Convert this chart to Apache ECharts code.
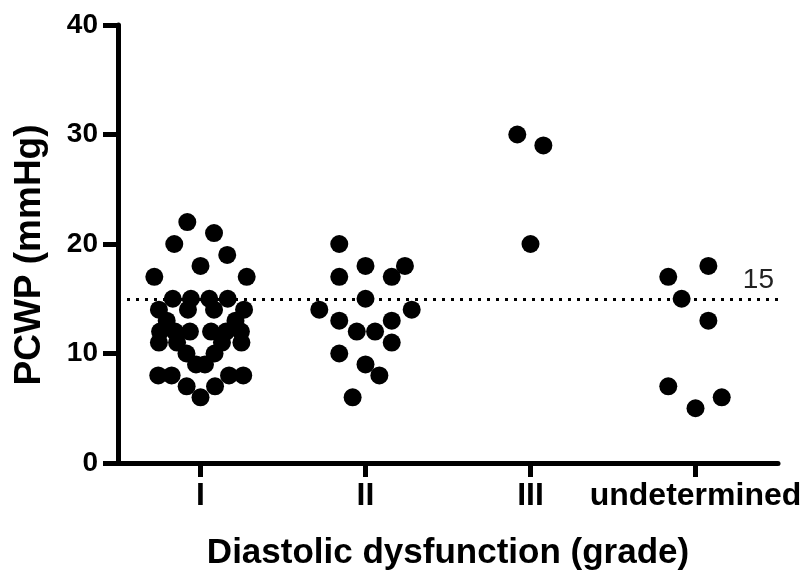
<!DOCTYPE html>
<html>
<head>
<meta charset="utf-8">
<script src="https://cdn.jsdelivr.net/npm/echarts/dist/echarts.min.js"></script>
<style>
  html, body { margin: 0; padding: 0; background: #fff; }
  #chart { width: 808px; height: 577px; }
</style>
</head>
<body>
<div id="chart"></div>
<script>
// Grades of diastolic dysfunction (x categories)
const grades = ['I', 'II', 'III', 'undetermined'];

// PCWP readings (mmHg) per grade, with the horizontal spread of each dot
// inside its column (in category units, 0 = column centre)
const pcwpI = [22, 21, 20, 19, 18, 17, 17,
               15, 15, 15, 15,
               14, 14, 14, 14,
               13, 13,
               12, 12, 12, 12, 12, 12,
               11, 11, 11, 11,
               10, 10,
               9, 9,
               8, 8, 8, 8,
               7, 7,
               6];
const spreadI = [-0.080, 0.082, -0.159, 0.162, 0, -0.280, 0.280,
                 -0.168, -0.058, 0.053, 0.165,
                 -0.252, -0.076, 0.082, 0.264,
                 -0.205, 0.212,
                 -0.245, -0.155, -0.064, 0.064, 0.155, 0.245,
                 -0.252, -0.142, 0.130, 0.248,
                 -0.085, 0.085,
                 -0.027, 0.027,
                 -0.256, -0.175, 0.173, 0.259,
                 -0.084, 0.088,
                 0];

const pcwpII = [20, 18, 18, 17, 17, 15, 14, 14, 13, 13, 12, 12, 11, 10, 9, 8, 6];
const spreadII = [-0.159, 0, 0.239, -0.159, 0.159, 0, -0.280, 0.280,
                  -0.159, 0.159, -0.053, 0.058, 0.159, -0.159, 0, 0.084, -0.078];

const pcwpIII = [30, 29, 20];
const spreadIII = [-0.080, 0.078, 0];

const pcwpUndet = [18, 17, 15, 13, 7, 6, 5];
const spreadUndet = [0.078, -0.165, -0.084, 0.078, -0.165, 0.159, 0];

// Reference level drawn as a dotted line
const threshold = 15;

// Y axis range and tick step
const yMin = 0, yMax = 40, yStep = 10;

const groups = [
  [pcwpI, spreadI],
  [pcwpII, spreadII],
  [pcwpIII, spreadIII],
  [pcwpUndet, spreadUndet]
];

const points = [];
groups.forEach(([vals, spread], gi) => {
  vals.forEach((v, k) => points.push([gi + 1 + spread[k], v]));
});

const FONT = "'Liberation Sans', Arial, Helvetica, sans-serif";
const chart = echarts.init(document.getElementById('chart'), null, { renderer: 'canvas' });

chart.setOption({
  animation: false,
  backgroundColor: '#fff',
  grid: { left: 118, right: 30, top: 25, bottom: 114, containLabel: false },
  xAxis: [
    {
      type: 'category',
      data: grades,
      boundaryGap: true,
      position: 'bottom',
      axisLine: { show: true, lineStyle: { color: '#000', width: 5 } },
      axisTick: { show: true, interval: 0, alignWithLabel: true, length: 14, lineStyle: { color: '#000', width: 5 } },
      axisLabel: { interval: 0, hideOverlap: false, color: '#000', fontFamily: FONT, fontWeight: 'bold', fontSize: 32, margin: 17 },
      splitLine: { show: false },
      name: 'Diastolic dysfunction (grade)',
      nameLocation: 'middle',
      nameGap: 73,
      nameTextStyle: { color: '#000', fontFamily: FONT, fontWeight: 'bold', fontSize: 35 }
    },
    {
      type: 'value',
      min: 0.5,
      max: 4.5,
      show: false
    }
  ],
  yAxis: {
    type: 'value',
    min: yMin,
    max: yMax,
    interval: yStep,
    axisLine: { show: true, lineStyle: { color: '#000', width: 5 } },
    axisTick: { show: true, length: 15, lineStyle: { color: '#000', width: 5 } },
    axisLabel: { color: '#000', fontFamily: FONT, fontWeight: 'bold', fontSize: 28, margin: 20 },
    splitLine: { show: false },
    name: 'PCWP (mmHg)',
    nameLocation: 'middle',
    nameRotate: 90,
    nameGap: 70,
    nameTextStyle: { color: '#000', fontFamily: FONT, fontWeight: 'bold', fontSize: 37, padding: [0, 22, 0, 0] }
  },
  series: [
    {
      type: 'scatter',
      xAxisIndex: 1,
      data: points,
      symbol: 'circle',
      symbolSize: 18,
      itemStyle: { color: '#000', opacity: 1 },
      markLine: {
        silent: true,
        symbol: 'none',
        lineStyle: { color: '#000', width: 3, type: [3, 6] },
        label: {
          show: true,
          position: 'insideEndTop',
          formatter: String(threshold),
          color: '#222',
          fontFamily: FONT,
          fontSize: 28,
          fontWeight: 'normal',
          distance: [4, 4]
        },
        data: [{ yAxis: threshold }]
      }
    }
  ]
});
</script>
</body>
</html>
